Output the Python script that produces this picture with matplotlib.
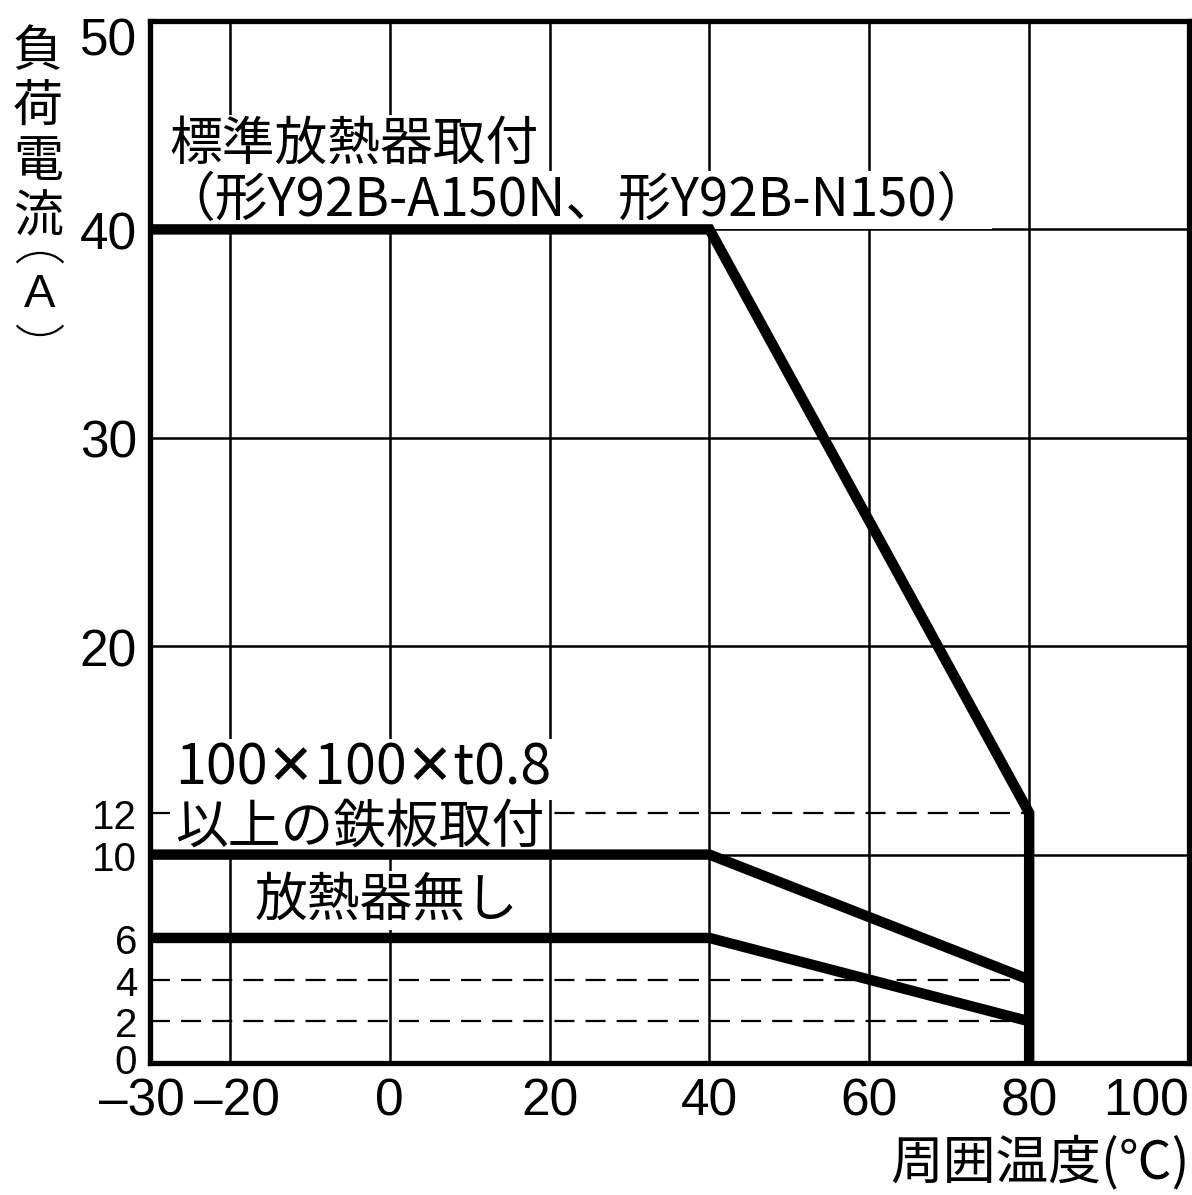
import matplotlib
matplotlib.use("Agg")
import matplotlib.pyplot as plt
from matplotlib.patches import Arc

plt.rcParams['font.family'] = ['Noto Sans CJK JP', 'DejaVu Sans']

# ---- data ----
std_x = [-30, 40, 80, 80]
std_y = [40, 40, 12, 0]
plate_x = [-30, 40, 80]
plate_y = [10, 10, 4]
none_x = [-30, 40, 80]
none_y = [6, 6, 2]
dashed_levels = [12, 4, 2]
dashed_xrange = [-30, 80]
grid_x = [-20, 0, 20, 40, 60, 80]
grid_y = [10, 20, 30, 40]
xticks = [-30, -20, 0, 20, 40, 60, 80, 100]
xtick_labels = ["–30", "–20", "0", "20", "40", "60", "80", "100"]
yticks = [0, 2, 4, 6, 10, 12, 20, 30, 40, 50]
ytick_labels = ["0", "2", "4", "6", "10", "12", "20", "30", "40", "50"]
ylabel_chars = ["負", "荷", "電", "流"]
ylabel_unit = "A"
xlabel_text = "周囲温度(℃)"
label_std1 = "標準放熱器取付"
label_std2 = "（形Y92B-A150N、形Y92B-N150）"
label_plate1 = "100✕100✕t0.8"
label_plate2 = "以上の鉄板取付"
label_none = "放熱器無し"

W, H = 1192, 1195
fig = plt.figure(figsize=(W / 100, H / 100), dpi=100)
ax = fig.add_axes([150 / W, 132 / H, 1039 / W, 1042 / H])
ax.set_xlim(-30, 100)
ax.set_ylim(0, 50)

for gx in grid_x:
    ax.axvline(gx, color='black', lw=1.8, zorder=1)
for gy in grid_y:
    ax.axhline(gy, color='black', lw=1.8, zorder=1)
for lv in dashed_levels:
    ax.plot(dashed_xrange, [lv, lv], color='black', lw=1.6,
            linestyle=(0, (9, 5)), zorder=1)

for xs, ys in [(std_x, std_y), (plate_x, plate_y), (none_x, none_y)]:
    ax.plot(xs, ys, color='black', lw=7.5, solid_joinstyle='miter',
            solid_capstyle='butt', zorder=4, clip_on=False)

for s in ax.spines.values():
    s.set_linewidth(3.8)
    s.set_zorder(5)

# ticks (labels drawn as annotations for fine placement)
ax.set_xticks(xticks)
ax.set_xticklabels([])
ax.set_yticks(yticks)
ax.set_yticklabels([])
ax.tick_params(axis='both', length=0)

x_dx = {-30: -8, -20: 7, 100: 0}
for v, lab in zip(xticks, xtick_labels):
    ha = 'right' if v == 100 else 'center'
    ax.annotate(lab, xy=(v, 0), xycoords=('data', 'axes fraction'),
                xytext=(x_dx.get(v, 0), -14), textcoords='offset pixels',
                ha=ha, va='top', fontsize=37, family='Liberation Sans',
                annotation_clip=False)

y_dy = {50: -14, 0: 5}
for v, lab in zip(yticks, ytick_labels):
    ax.annotate(lab, xy=(0, v), xycoords=('axes fraction', 'data'),
                xytext=(-13, y_dy.get(v, 0) - 1), textcoords='offset pixels',
                ha='right', va='center_baseline', family='Liberation Sans',
                fontsize=(37 if v >= 20 else 29), annotation_clip=False)

bbox = dict(facecolor='white', edgecolor='none', pad=1)
fs = 38
ax.text(-27.6, 44.1, label_std1, fontsize=fs, va='center', ha='left', bbox=bbox, zorder=3)
ax.text(-28.4, 41.4, label_std2, fontsize=fs, va='center', ha='left', bbox=bbox, zorder=3)
ax.text(-26.9, 14.1, label_plate1, fontsize=40, va='center', ha='left', bbox=bbox, zorder=3)
ax.text(-26.9, 11.3, label_plate2, fontsize=fs, va='center', ha='left', bbox=bbox, zorder=3)
ax.text(-16.9, 7.8, label_none, fontsize=fs, va='center', ha='left', bbox=bbox, zorder=3)

# vertical y label
ycent = [52, 107, 162, 217]
for ch, py in zip(ylabel_chars, ycent):
    fig.text(38 / W, 1 - py / H, ch, fontsize=36, ha='center', va='center')
fig.text(40 / W, 1 - 295 / H, ylabel_unit, fontsize=34, family='Liberation Sans',
         ha='center', va='center')
fig.add_artist(Arc((40 / W, 1 - 279 / H), 60 / W, 52 / H, theta1=35, theta2=145,
                   transform=fig.transFigure, color='black', lw=1.6))
fig.add_artist(Arc((40 / W, 1 - 309 / H), 60 / W, 52 / H, theta1=215, theta2=325,
                   transform=fig.transFigure, color='black', lw=1.6))

fig.text(1190 / W, 1 - 1163 / H, xlabel_text, fontsize=38, ha='right', va='center')

fig.savefig("out.png", dpi=100, facecolor='white')
